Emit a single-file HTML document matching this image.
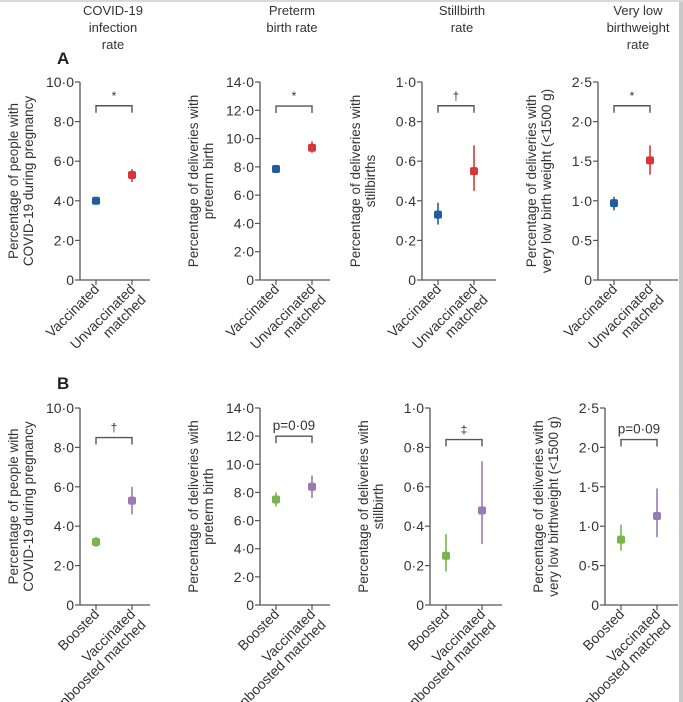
<!DOCTYPE html>
<html><head><meta charset="utf-8"><style>
html,body{margin:0;padding:0;background:#fff}
svg{display:block;font-family:"Liberation Sans",sans-serif}
</style></head><body>
<svg id="c" width="683" height="702" viewBox="0 0 683 702" xmlns="http://www.w3.org/2000/svg">
<rect x="0" y="0" width="683" height="702" fill="#fff"/>
<rect x="679" y="0" width="4" height="702" fill="#c8c8c8"/>
<rect x="0" y="0" width="683" height="2" fill="#d8d8d8"/>
<g font-size="13" fill="#333" text-anchor="middle">
<text x="113" y="15"><tspan x="113">COVID-19</tspan><tspan x="113" dy="17">infection</tspan><tspan x="113" dy="17">rate</tspan></text>
<text x="292" y="15"><tspan x="292">Preterm</tspan><tspan x="292" dy="17">birth rate</tspan></text>
<text x="462" y="15"><tspan x="462">Stillbirth</tspan><tspan x="462" dy="17">rate</tspan></text>
<text x="638" y="15"><tspan x="638">Very low</tspan><tspan x="638" dy="17">birthweight</tspan><tspan x="638" dy="17">rate</tspan></text>
</g>
<text x="57" y="64" font-size="17" font-weight="bold" fill="#222">A</text>
<text x="57" y="389" font-size="17" font-weight="bold" fill="#222">B</text>
</svg>
<script>
const catsA = [["Vaccinated"], ["Unvaccinated", "matched"]];
const catsB = [["Boosted"], ["Vaccinated", "unboosted matched"]];
const yMax = [10, 14, 1, 2.5];
const yStep = [2, 2, 0.2, 0.5];
const yDec = [1, 1, 1, 1];
const yTitles = [["Percentage of people with", "COVID-19 during pregnancy"], ["Percentage of deliveries with", "preterm birth"], ["Percentage of deliveries with", "stillbirths"], ["Percentage of deliveries with", "very low birth weight (<1500 g)"]];
const yTitlesB = [["Percentage of people with", "COVID-19 during pregnancy"], ["Percentage of deliveries with", "preterm birth"], ["Percentage of deliveries with", "stillbirth"], ["Percentage of deliveries with", "very low birthweight (<1500 g)"]];
const valsA = [[4.0, 5.3], [7.85, 9.35], [0.33, 0.55], [0.97, 1.51]];
const lowA = [[3.9, 4.95], [7.7, 9.0], [0.28, 0.45], [0.88, 1.33]];
const highA = [[4.1, 5.6], [8.0, 9.8], [0.39, 0.68], [1.05, 1.70]];
const valsB = [[3.2, 5.3], [7.5, 8.4], [0.25, 0.48], [0.83, 1.13]];
const lowB = [[2.95, 4.6], [7.0, 7.6], [0.17, 0.31], [0.69, 0.86]];
const highB = [[3.45, 6.0], [8.0, 9.2], [0.36, 0.73], [1.02, 1.48]];
const bracketA = [8.8, 12.3, 0.88, 2.2];
const bracketB = [8.5, 12.0, 0.84, 2.1];
const sigA = ["*", "*", "†", "*"];
const sigB = ["†", "p=0·09", "‡", "p=0·09"];
const colorsA = ["#1f5d9e", "#d8353b"];
const colorsB = ["#79b548", "#9a7ab5"];

const svg = document.getElementById('c');
const NS = "http://www.w3.org/2000/svg";
function mk(tag, attrs, parent) {
  const e = document.createElementNS(NS, tag);
  for (const k in attrs) e.setAttribute(k, attrs[k]);
  (parent || svg).appendChild(e);
  return e;
}
function fmt(v, d) { return v === 0 ? "0" : v.toFixed(d).replace(".", "·"); }

function panel(i, ax, top, bot, cats, vals, lo, hi, br, sig, colors, titles, xEnd, tag) {
  const g = mk('g', {});
  
  
  const y = v => bot - (v / yMax[i]) * (bot - top);
  const cx = [ax + 16, ax + 52];
  const stroke = "#555";
  const yl = mk('line', {x1: ax, y1: top, x2: ax, y2: bot, stroke: stroke, 'stroke-width': 1.3}, g);
  
  
  const xl = mk('line', {x1: ax, y1: bot, x2: xEnd, y2: bot, stroke: stroke, 'stroke-width': 1.3}, g);
  
  
  const n = Math.round(yMax[i] / yStep[i]);
  for (let k = 0; k <= n; k++) {
    const v = k * yStep[i], yy = y(v);
    mk('line', {x1: ax - 5, y1: yy, x2: ax, y2: yy, stroke: stroke, 'stroke-width': 1.2}, g);
    const t = mk('text', {x: ax - 6, y: yy + 5, 'font-size': 14, fill: '#333', 'text-anchor': 'end'}, g);
    t.textContent = fmt(v, yDec[i]);
    
    
  }
  const tx = ax - 60, ty = (top + bot) / 2;
  const yt = mk('text', {transform: 'translate(' + tx + ',' + ty + ') rotate(-90)', 'font-size': 13.5, fill: '#333', 'text-anchor': 'middle'}, g);
  
  
  titles.forEach((s, j) => { const ts = mk('tspan', {x: 0, y: j === 0 ? -2 : 13}, yt); ts.textContent = s; });
  for (let c = 0; c < 2; c++) {
    mk('line', {x1: cx[c], y1: bot, x2: cx[c], y2: bot + 5, stroke: stroke, 'stroke-width': 1.2}, g);
    const lt = mk('text', {transform: 'translate(' + (cx[c] + 4) + ',' + (bot + 10) + ') rotate(-45)', 'font-size': 14, fill: '#333', 'text-anchor': 'end'}, g);
    
    
    cats[c].forEach((s, j) => { const ts = mk('tspan', {x: 0, y: j * 15}, lt); ts.textContent = s; });
    const eb = mk('line', {x1: cx[c], y1: y(lo[i][c]), x2: cx[c], y2: y(hi[i][c]), stroke: colors[c], 'stroke-width': 1.6}, g);
    
    
    const pt = mk('rect', {x: cx[c] - 4, y: y(vals[i][c]) - 4, width: 8, height: 8, rx: 2, fill: colors[c]}, g);
    
    
  }
  const by = y(br[i]);
  const bp = mk('path', {d: 'M' + cx[0] + ',' + (by + 7) + 'V' + by + 'H' + cx[1] + 'V' + (by + 7), fill: 'none', stroke: stroke, 'stroke-width': 1.4}, g);
  
  
  const st = mk('text', {x: (cx[0] + cx[1]) / 2, y: by - 6, 'font-size': sig[i].length > 1 ? 13.5 : 12, fill: '#333', 'text-anchor': 'middle'}, g);
  st.textContent = sig[i];
  
  
}
const axA = [80, 260, 422, 598];
const axB = [80, 260, 430, 605];
const endA = [150, 330, 496, 678];
const endB = [150, 330, 502, 678];
for (let i = 0; i < 4; i++) {
  panel(i, axA[i], 82, 280, catsA, valsA, lowA, highA, bracketA, sigA, colorsA, yTitles[i], endA[i], 'a');
  panel(i, axB[i], 408, 605, catsB, valsB, lowB, highB, bracketB, sigB, colorsB, yTitlesB[i], endB[i], 'b');
}
</script>
</body></html>
